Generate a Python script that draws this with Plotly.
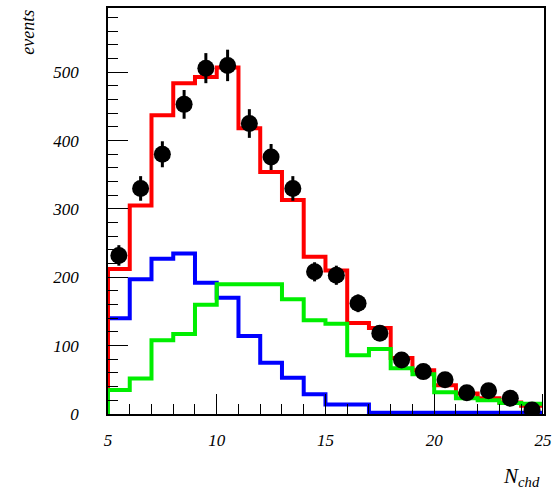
import plotly.graph_objects as go

# bin edges 5..25 (width 1)
edges = list(range(5, 26))
centers = [e + 0.5 for e in range(5, 25)]

red_vals = [212, 305, 437, 484, 493, 507, 418, 354, 313, 230, 210, 133, 126, 82, 64, 42, 30, 23, 17, 12]
blue_vals = [140, 197, 227, 235, 192, 170, 114, 75, 53, 29, 14, 14, 2, 2, 2, 2, 2, 2, 2, 2]
green_vals = [35, 52, 108, 117, 160, 190, 190, 190, 168, 137, 132, 86, 95, 67, 58, 32, 23, 20, 16, 15]

data_vals = [232, 330, 380, 453, 506, 510, 425, 376, 330, 208, 203, 162, 118, 79, 62, 50, 31, 34, 23, 6]
data_errs = [15, 18, 19, 21, 22, 23, 21, 19, 18, 14, 14, 13, 11, 9, 8, 7, 6, 6, 5, 2]

y_ticks = [0, 100, 200, 300, 400, 500]
x_ticks = [5, 10, 15, 20, 25]


def step(vals, start_zero=True):
    xs = ([edges[0]] if start_zero else []) + edges
    ys = ([0] if start_zero else []) + vals + [vals[-1]]
    return xs, ys


fig = go.Figure()

for vals, col, sz in [(blue_vals, "#0000ff", False), (red_vals, "#ff0000", True), (green_vals, "#00ee00", True)]:
    xs, ys = step(vals, sz)
    fig.add_trace(go.Scatter(x=xs, y=ys, mode="lines", line=dict(color=col, width=4, shape="hv"),
                             showlegend=False, hoverinfo="skip"))

fig.add_trace(go.Scatter(
    x=centers, y=data_vals, mode="markers",
    marker=dict(color="black", size=17, symbol="circle"),
    error_y=dict(type="data", array=data_errs, color="black", thickness=3, width=0),
    showlegend=False))

tickfont = dict(family="Liberation Serif", size=17, color="black", style="italic")

fig.update_xaxes(range=[5, 25.05], tickmode="array", tickvals=x_ticks, ticktext=[str(v) for v in x_ticks],
                 ticks="inside", ticklen=20, tickwidth=1, tickcolor="black",
                 minor=dict(dtick=1, ticks="inside", ticklen=10, tickwidth=1, tickcolor="black"),
                 showline=True, linecolor="black", linewidth=1.5, mirror=True,
                 showgrid=False, zeroline=False, tickfont=tickfont, ticklabelstandoff=10,
                 ticklabeloverflow="allow")
fig.update_yaxes(range=[0, 594], tickmode="array", tickvals=y_ticks, ticktext=[str(v) for v in y_ticks],
                 ticks="inside", ticklen=20, tickwidth=1, tickcolor="black",
                 minor=dict(dtick=20, ticks="inside", ticklen=10, tickwidth=1, tickcolor="black"),
                 showline=True, linecolor="black", linewidth=1.5, mirror=True,
                 showgrid=False, zeroline=False, tickfont=tickfont, ticklabelstandoff=24)

fig.update_layout(
    width=553, height=497,
    margin=dict(l=108, r=2, t=8, b=83),
    plot_bgcolor="white", paper_bgcolor="white",
    annotations=[
        dict(text="events", xref="paper", yref="paper", x=-0.185, y=1.0, xanchor="center", yanchor="top",
             textangle=-90, showarrow=False,
             font=dict(family="Liberation Serif", size=18, color="black", style="italic")),
        dict(text="N<sub>chd</sub>", xref="paper", yref="paper", x=0.995, y=-0.192, xanchor="right",
             yanchor="bottom", showarrow=False,
             font=dict(family="Liberation Serif", size=21, color="black", style="italic")),
    ],
)

fig.write_html("out.html")
